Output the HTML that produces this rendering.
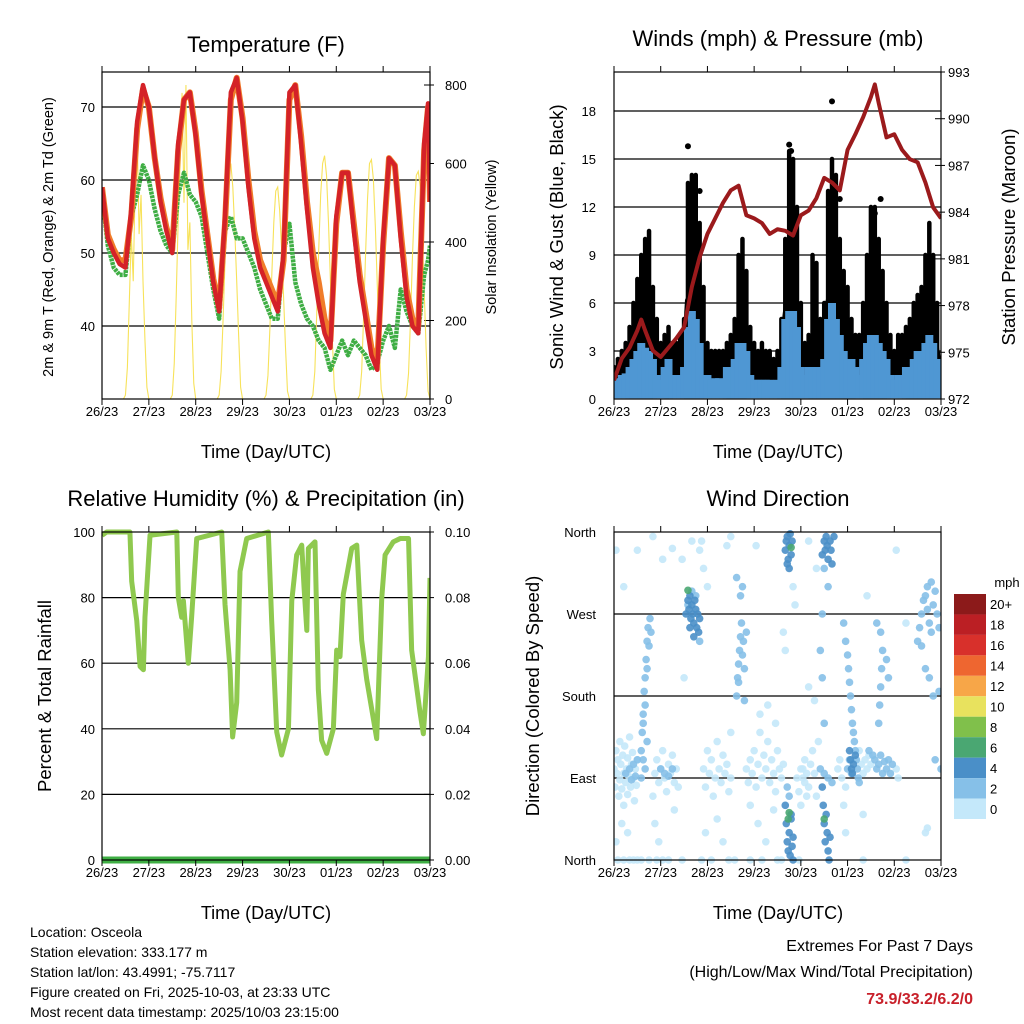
<!DOCTYPE html>
<html><head><meta charset="utf-8"><style>
html,body{margin:0;padding:0;background:#fff;}
svg{display:block;font-family:"Liberation Sans",Arial,sans-serif;}
</style></head><body>
<svg id="c" width="1024" height="1024" viewBox="0 0 1024 1024"></svg>
<script>
// ---------- DATA ----------
const dayLabels = ["26/23","27/23","28/23","29/23","30/23","01/23","02/23","03/23"];
const tempTime = [0,3,6,9,12,15,18,21,24,27,30,33,36,39,42,45,48,51,54,57,60,63,66,69,72,75,78,81,84,87,90,93,96,99,102,105,108,111,114,117,120,123,126,129,132,135,138,141,144,147,150,153,156,159,162,165,167,168];
const temp2m = [59,52,50,48.5,48,56,68,73,70,63,57,53,50,65,71,72,66,58,52,46,42,55,72,74,68,59,52,48,46,44,42,50,72,73,65,56,48,43,39,37,55,61,61,53,46,41,36,34,52,63,62,52,44,40,39,65,70.5,57];
const temp9m = [59,52.5,50.5,49,49,55,67,72.5,70,63,57.5,53.5,50.5,64,71,72,66.5,58.5,52.5,46.5,42.5,54,71,74,68.5,60,53,49,47,45,43,49,71,73,66,57,50,46,41,38,54,61,61,54,47,42,37,35,51,63,62,53,45,41,40,64,70,57];
const dewpt = [58,51,48,47,47,55,58,62,60,56,53,51,50,58,61,58,57,55,50,45,41,53,55,52,52,50,48,45,43,41,41,50,54,46,43,41,40,38,37,34,36,38,36,38,37,36,34,35,38,40,37,45,42,40,39,47,49,51];
const solar = [
0,0,0,0,0,0,0,0,0,0,0,0,10,80,250,420,300,550,680,420,520,300,150,30,
0,0,0,0,0,0,0,0,0,0,0,0,10,90,260,450,600,780,500,800,380,450,200,40,
0,0,0,0,0,0,0,0,0,0,0,0,10,70,200,350,480,580,600,540,430,300,160,30,
0,0,0,0,0,0,0,0,0,0,0,0,10,60,180,320,450,530,540,480,380,260,130,20,
0,0,0,0,0,0,0,0,0,0,0,0,10,70,220,380,520,600,620,570,450,300,150,25,
0,0,0,0,0,0,0,0,0,0,0,0,10,70,210,370,510,600,610,560,440,290,140,25,
0,0,0,0,0,0,0,0,0,0,0,0,10,65,200,360,490,570,580,540,420,280,130,20,
0];
const windTime = [0,2,4,6,8,10,12,14,16,18,20,22,24,26,28,30,32,34,36,38,40,42,44,46,48,50,52,54,56,58,60,62,64,66,68,70,72,74,76,78,80,82,84,86,88,90,92,94,96,98,100,102,104,106,108,110,112,114,116,118,120,122,124,126,128,130,132,134,136,138,140,142,144,146,148,150,152,154,156,158,160,162,164,166,168];
const gustHigh = [2,2.5,3,3.5,4.5,6,7.5,9,10,10.5,7,5,3.5,4,4.5,3.5,3.5,4,5,13.5,14,14,11,7,3.5,3,3,3,3,3.5,4,5,9,10,8,4.5,3.5,3,3.5,3,3,2.5,3,5,10,15.5,15,12,6,3.5,4,9,8.5,5,6,13,15,14,10,8,7,5,4,4,6,9,12,12,10,8,6,4,3,4,4,4.5,5,6,6.5,7,9,11,9,6,2];
const gustLow = [0.5,0.5,0.8,1,1,1.2,1.5,2,2,2,1.5,1,0.8,1,1,1,1,1,1,3,3.5,3,2.5,1,1,0.8,0.8,0.8,0.8,1,1,1,1.5,1.5,1.2,1,0.8,0.8,0.8,0.8,0.8,0.8,0.8,1,3,3.5,3,2.5,1,1,1,1.5,1.5,1.5,1.5,3,3.5,3,2.5,2,1.5,1.5,1,1,1.5,2,2.5,2.5,2,2,1.5,1,0.8,1,1,1,1.5,1.5,1.5,2,2,2,2,1.5,0.5];
const sonicHigh = [1.2,1.3,1.5,1.6,2,2.5,3,3.5,3.2,3,2.5,1.5,1.2,2,2.5,1.5,1.5,1.5,2,4.5,5.5,5,3.5,1.5,1.5,1.2,1.3,1.3,1.2,2,2,2.5,3.5,3.5,3,1.5,1.2,1.2,1.2,1.2,1.2,1,1.2,2,5,5.5,5.5,4.5,2,1.5,2,2,2,2,2.5,5,6,5,4,3,2.5,2.5,2,1.5,2.5,3.5,4,4,3.5,3,2.5,1.5,1.2,1.5,1.5,2,2,2.5,3,3,3.5,4,3.5,2.5,1];
const gustOutTime = [38,44,90,91,112,116,137,134];
const gustOut = [15.8,13,15.9,15.5,18.6,12.5,12.5,11.6];
const presTime = [0,4,8,12,14,16,20,24,28,32,36,40,44,48,52,56,60,64,68,72,76,80,84,88,92,96,100,104,108,112,116,120,124,128,132,134,136,140,144,148,152,156,160,164,168];
const pressure = [973.2,974.6,975.3,976.4,977.1,976.4,975.1,974.7,975.3,975.9,976.6,979.2,981.1,982.6,983.6,984.6,985.4,985.7,983.8,983.6,983.3,982.6,982.9,982.8,982.5,983.8,984.1,984.9,986.2,985.9,985.4,988,989,990.1,991.4,992.2,991,988.8,989,988,987.4,987.2,985.9,984.3,983.6];
const rhTime = [0,2.4,14.3,15.2,17.8,19.5,21.2,22,24.6,38.3,39.1,40.8,41.7,44.2,45.9,48.5,61.3,63,65.6,66.9,69,70.7,74.1,85.2,86.9,89.5,92,95.5,97.2,99.7,102.3,103.5,104.9,105.7,109.1,110.8,112.5,115.1,118.5,120.2,121.9,123.6,127.9,130.5,133,135.6,140.7,143.3,145,149.2,152.7,157,158.6,162.9,164.6,167.2,168];
const rhVals = [99,100,100,85,73,59,58,74,99,100,80,74,79,60,74,98,100,78,58,37.5,48,88,98,100,73,39,32,40,79,93,96,83,70,95,97,52,36.5,32.5,40,64,62,81,95,96,67,55,37,80,93,97,98,98,64,45,38.5,62,86];
const precipVals = [0,0];
const precipTime = [0,168];
const wdTime = [0,0.5,1,1.5,2,2.5,3,3,3.5,4,4.5,5,5,5.5,6,6.5,7,7,7.5,8,8.5,9,9.5,10,10.5,11,11.5,12,1,4,7,2,5,8,10,12,1,5,
6,8,9,10,11,12,
14,14.5,15,15.5,16,16.5,17,17.5,18,16,15,17,18.5,19,17,16,15,14,
20,21,22,23,24,25,26,27,28,29,30,31,32,21,23,25,28,31,33,24,26,28,30,
37,38,38.5,39,39.5,40,40.5,41,41.5,42,42.5,43,43.5,44,38,40,42,39,41,44,38,
35,40,44,46,48,36,
46,47,48,49,50,51,52,53,54,55,56,57,58,59,60,47,50,53,56,59,60,
63,63.5,64,64.5,65,65.5,66,66.5,67,68,65,66,64,67,63,
68,69,70,71,72,73,74,75,76,77,78,79,80,81,82,83,84,85,86,87,70,74,78,82,86,75,79,83,
88,88.5,89,89.5,90,90.5,91,89,91.5,90,91,
88,88.5,89,89.5,90,90.5,91,91.5,92,90,89,92,91,89.5,90,
87,88,92,93,94,95,96,97,98,99,
96,97,98,99,100,101,102,103,104,100,103,105,
107,108,108.5,109,109.5,110,111,111.5,112,113,108,110,107,106,107,108,
107,107.5,108,108.5,109,109.5,110,110.5,111,106,108,110,112,108,
118,119,120,120.5,121,121.5,122,122.5,123,123.5,124,124.5,125,125.5,126,120,121,118,119,122,
121,121.5,122,122.5,123,124,
115,116,117,126,127,128,129,130,131,132,119,128,
134,135,136,137,138,139,140,141,142,143,133,131,140,141,137,145,146,136,136.5,137,137.5,138,135,
156,157,158,159,160,161,162,163,164,165,166,167,158,160,162,164,161,163,167,165,168,
14,18,22,35,45,62,70,76,84,95,128,150,160,161,
12,20,25,30,45,58,60,73,100,104,130,150,145];
const wdDir = [100,80,120,95,110,70,130,88,105,78,115,95,60,125,85,100,112,72,92,135,80,105,118,90,65,100,82,110,20,40,30,0,0,0,0,0,340,300,
95,100,88,105,92,110,
120,140,160,185,200,220,240,255,235,170,150,210,265,250,130,100,110,90,
70,95,110,85,100,120,90,75,105,95,115,85,100,40,20,0,0,55,80,100,95,92,100,
270,285,275,290,265,280,270,260,285,275,255,270,250,265,280,295,290,255,245,240,296,
330,350,340,320,300,200,
100,80,120,95,110,70,90,130,100,85,115,95,105,75,90,30,0,45,20,0,140,
180,200,215,230,245,260,225,240,210,250,290,300,195,175,310,
100,85,110,95,120,80,105,140,90,115,100,130,85,110,95,75,120,100,90,105,60,40,20,55,0,160,170,150,
340,350,355,330,345,358,335,325,350,320,343,
60,40,20,10,30,5,45,15,25,70,80,0,50,45,52,
250,230,300,280,90,75,60,100,85,70,
100,90,110,95,80,105,120,95,70,190,175,130,
335,350,340,355,345,330,350,340,325,355,320,300,270,230,200,150,
80,60,40,20,50,30,10,0,25,100,95,90,85,45,
260,240,225,210,195,180,165,150,140,130,120,110,100,90,85,100,110,60,80,95,
120,110,100,95,105,115,
100,110,90,120,105,95,110,100,115,105,30,50,
110,100,105,115,95,108,100,110,95,105,115,120,220,200,250,100,90,150,170,190,210,230,260,
240,255,270,285,290,275,260,250,280,295,270,255,235,210,200,180,300,305,185,110,100,
0,0,0,0,0,0,0,0,0,0,0,0,30,35,
340,355,330,342,350,345,355,345,350,320,290,260,340];
const wdSpeed = [1,1,1,1,1,1,1,1,1,1,1,1,1,1,1,1,1,1,1,1,1,1,1,1,1,1,1,1,1,1,1,1,1,1,1,1,1,1,
3,3,3,3,3,3,
3,3,3,3,3,3,3,3,3,3,3,3,3,3,3,3,3,3,
1,1,1,1,1,1,1,1,1,1,1,1,1,1,1,1,1,1,1,3,3,3,3,
4.5,4.5,4.5,4.5,4.5,4.5,4.5,4.5,4.5,4.5,4.5,4.5,4.5,4.5,3,3,3,4.5,4.5,3,7,
1,1,1,1,1,1,
1,1,1,1,1,1,1,1,1,1,1,1,1,1,1,1,1,1,1,1,1,
3,3,3,3,3,3,3,3,3,3,3,3,3,3,3,
1,1,1,1,1,1,1,1,1,1,1,1,1,1,1,1,1,1,1,1,1,1,1,1,1,1,1,1,
5,5,5,5,5,5,5,5,5,5,7,
5,5,5,5,5,5,5,5,5,3,3,5,5,7,7,
1,1,1,1,1,1,1,1,1,1,
1,1,1,1,1,1,1,1,1,1,1,1,
5,5,5,5,5,5,5,5,5,5,3,3,3,3,3,3,
5,5,5,5,5,5,5,5,5,3,3,3,3,7,
3,3,3,3,3,3,3,3,3,3,3,3,3,3,3,3,3,1,1,3,
5,5,5,5,5,5,
1,1,1,1,1,1,1,1,1,1,1,1,
2.5,2.5,2.5,2.5,2.5,2.5,2.5,2.5,2.5,2.5,2.5,2.5,2.5,2.5,3,1,1,3,3,3,3,3,3,
3,3,3,3,3,3,3,3,3,3,3,3,3,3,3,3,3,3,3,3,3,
1,1,1,1,1,1,1,1,1,1,1,1,1,1,
1,1,1,1,1,1,1,1,1,1,1,1,1];
const cbLabels = ["20+","18","16","14","12","10","8","6","4","2","0"];
const cbColors = ["#8c1a1a","#bb1f24","#d8302b","#ee6630","#f7a648","#e8e25e","#80c04b","#4aa772","#4a8fc8","#86c0e8","#c4e8fa"];

// ---------- HELPERS ----------
const NS="http://www.w3.org/2000/svg";
const svg=document.getElementById('c');
function mk(tag,attrs,parent){const e=document.createElementNS(NS,tag);for(const k in attrs)e.setAttribute(k,attrs[k]);(parent||svg).appendChild(e);return e;}
function txt(s,x,y,size,anchor,parent,extra){const e=mk('text',Object.assign({x:x,y:y,'font-size':size,'text-anchor':anchor||'middle',fill:'#000'},extra||{}),parent);e.textContent=s;return e;}
function colorFor(s){const idx=Math.min(10,Math.floor(s/2));return cbColors[10-idx];}

const defs=mk('defs',{});
function clip(id,x,y,w,h){const cp=mk('clipPath',{id:id},defs);mk('rect',{x:x,y:y,width:w,height:h},cp);}

function panel(name){
  const g=mk('g',{});
  
  
  return g;
}
function frame(g,x0,y0,w,h){
  const r=mk('rect',{x:x0,y:y0,width:w,height:h,fill:'none',stroke:'#000','stroke-width':1.2},g);
  
  
}
function xAxis(g,x0,x1,yb,yt,labelY){
  for(let i=0;i<dayLabels.length;i++){
    const x=x0+i*(x1-x0)/7;
    mk('line',{x1:x,y1:yb,x2:x,y2:yb+6,stroke:'#000','stroke-width':1},g);
    mk('line',{x1:x,y1:yt,x2:x,y2:yt-6,stroke:'#000','stroke-width':1},g);
    const t=txt(dayLabels[i],x,labelY,13,'middle',g);
    
    
  }
}

// ---------- TEMPERATURE ----------
(function(){
  const X0=102,X1=430,Y0=72,Y1=399;
  const g=panel('temperature-panel');
  const xT=t=>X0+t*(X1-X0)/168;
  const yT=v=>107+(70-v)*7.3;
  const yS=v=>399-v*(399-85)/800;
  clip('cpT',X0,Y0,X1-X0,Y1-Y0);
  [40,50,60,70].forEach(v=>{
    const l=mk('line',{x1:X0,x2:X1,y1:yT(v),y2:yT(v),stroke:'#000','stroke-width':1.2},g);
    
    
    mk('line',{x1:X0,x2:X0+6,y1:yT(v),y2:yT(v),stroke:'#000'},g);
    const t=txt(String(v),95,yT(v)+5,13,'end',g);
    
    
  });
  [0,200,400,600,800].forEach(v=>{
    mk('line',{x1:X1-6,x2:X1+4,y1:yS(v),y2:yS(v),stroke:'#000'},g);
    const t=txt(String(v),445,yS(v)+5,13,'start',g);
    
    
  });
  const pg=mk('g',{'clip-path':'url(#cpT)'},g);
  const sp=mk('polyline',{points:solar.map((v,i)=>xT(i)+','+yS(v)).join(' '),fill:'none',stroke:'#f7e25a','stroke-width':1.1},pg);
  
  
  const dp=mk('polyline',{points:dewpt.map((v,i)=>xT(tempTime[i])+','+yT(v)).join(' '),fill:'none',stroke:'#3fae44','stroke-width':4.5,'stroke-dasharray':'3 0.8','stroke-linejoin':'round'},pg);
  
  
  const op=mk('polyline',{points:temp9m.map((v,i)=>xT(tempTime[i])+','+yT(v)).join(' '),fill:'none',stroke:'#f07c2a','stroke-width':6,'stroke-linejoin':'round'},pg);
  
  
  const rp=mk('polyline',{points:temp2m.map((v,i)=>xT(tempTime[i])+','+yT(v)).join(' '),fill:'none',stroke:'#d42228','stroke-width':4.5,'stroke-linejoin':'round'},pg);
  
  
  frame(g,X0,Y0,X1-X0,Y1-Y0);
  xAxis(g,X0,X1,Y1,Y0,416);
  const ti=txt('Temperature (F)',266,52,22,'middle',g);
  
  
  const xl=txt('Time (Day/UTC)',266,458,18,'middle',g);
  
  
  const yl=txt('2m & 9m T (Red, Orange) & 2m Td (Green)',0,0,14.5,'middle',g,{transform:'translate(53,237) rotate(-90)'});
  
  
  const y2=txt('Solar Insolation (Yellow)',0,0,14.5,'middle',g,{transform:'translate(496,237) rotate(-90)'});
  
  
})();

// ---------- WINDS ----------
(function(){
  const X0=614,X1=941,Y0=72,Y1=399;
  const g=panel('winds-panel');
  const xW=t=>X0+t*(X1-X0)/168;
  const yW=v=>399-16*v;
  const yP=p=>399-(p-972)*(327/21);
  clip('cpW',X0,Y0,X1-X0,Y1-Y0);
  [3,6,9,12,15,18].forEach(v=>{
    const l=mk('line',{x1:X0,x2:X1,y1:yW(v),y2:yW(v),stroke:'#000','stroke-width':1.2},g);
    
    
  });
  [0,3,6,9,12,15,18].forEach(v=>{
    mk('line',{x1:X0,x2:X0+6,y1:yW(v),y2:yW(v),stroke:'#000'},g);
    const t=txt(String(v),596,yW(v)+5,13,'end',g);
    
    
  });
  [972,975,978,981,984,987,990,993].forEach(v=>{
    mk('line',{x1:X1-6,x2:X1+4,y1:yP(v),y2:yP(v),stroke:'#000'},g);
    const t=txt(String(v),948,yP(v)+5,13,'start',g);
    
    
  });
  const pg=mk('g',{'clip-path':'url(#cpW)'},g);
  const gg=mk('g',{},pg);
  
  
  windTime.forEach((t,i)=>{
    const l=mk('line',{x1:xW(t),x2:xW(t),y1:yW(gustLow[i]),y2:yW(gustHigh[i]),stroke:'#000','stroke-width':4.5,'stroke-linecap':'round'},gg);
    
    
  });
  const gl=mk('polyline',{points:windTime.map((t,i)=>xW(t)+','+yW(gustLow[i]+ (gustHigh[i]-gustLow[i])*0.3)).join(' '),fill:'none',stroke:'#000','stroke-width':6,'stroke-linejoin':'round'},gg);
  
  
  gustOut.forEach((v,i)=>{
    const c=mk('circle',{cx:xW(gustOutTime[i]),cy:yW(v),r:3,fill:'#000'},gg);
    
    
  });
  const bg=mk('g',{},pg);
  
  
  windTime.forEach((t,i)=>{
    const l=mk('line',{x1:xW(t),x2:xW(t),y1:yW(0.05),y2:yW(sonicHigh[i]),stroke:'#4f97d3','stroke-width':8},bg);
    
    
  });
  const pp=mk('polyline',{points:pressure.map((p,i)=>xW(presTime[i])+','+yP(p)).join(' '),fill:'none',stroke:'#9b1a1c','stroke-width':4,'stroke-linejoin':'round'},pg);
  
  
  frame(g,X0,Y0,X1-X0,Y1-Y0);
  xAxis(g,X0,X1,Y1,Y0,416);
  const ti=txt('Winds (mph) & Pressure (mb)',778,46,22,'middle',g);
  
  
  const xl=txt('Time (Day/UTC)',778,458,18,'middle',g);
  
  
  const yl=txt('Sonic Wind & Gust (Blue, Black)',0,0,18.5,'middle',g,{transform:'translate(563,237) rotate(-90)'});
  
  
  const y2=txt('Station Pressure (Maroon)',0,0,18.5,'middle',g,{transform:'translate(1015,237) rotate(-90)'});
  
  
})();

// ---------- RH ----------
(function(){
  const X0=102,X1=430,Y0=532,Y1=860;
  const g=panel('humidity-panel');
  const xR=t=>X0+t*(X1-X0)/168;
  const yR=v=>860-v*3.28;
  const yPr=v=>860-v*3280;
  clip('cpR',X0,Y0-4,X1-X0,Y1-Y0+8);
  [20,40,60,80].forEach(v=>{
    const l=mk('line',{x1:X0,x2:X1,y1:yR(v),y2:yR(v),stroke:'#000','stroke-width':1.2},g);
    
    
  });
  [0,20,40,60,80,100].forEach(v=>{
    const t=txt(String(v),95,yR(v)+5,13,'end',g);
    
    
  });
  ["0.00","0.02","0.04","0.06","0.08","0.10"].forEach(s=>{
    const v=parseFloat(s);
    mk('line',{x1:X1-6,x2:X1+4,y1:yPr(v),y2:yPr(v),stroke:'#000'},g);
    const t=txt(s,445,yPr(v)+5,13,'start',g);
    
    
  });
  const pg=mk('g',{'clip-path':'url(#cpR)'},g);
  const rl=mk('polyline',{points:rhVals.map((v,i)=>xR(rhTime[i])+','+yR(v)).join(' '),fill:'none',stroke:'#8fc94f','stroke-width':5,'stroke-linejoin':'round'},pg);
  
  
  const pl=mk('polyline',{points:precipVals.map((v,i)=>xR(precipTime[i])+','+yPr(v)).join(' '),fill:'none',stroke:'#3fae44','stroke-width':7},pg);
  
  
  frame(g,X0,Y0,X1-X0,Y1-Y0);
  xAxis(g,X0,X1,Y1,Y0,877);
  const ti=txt('Relative Humidity (%) & Precipitation (in)',266,506,22,'middle',g);
  
  
  const xl=txt('Time (Day/UTC)',266,919,18,'middle',g);
  
  
  const yl=txt('Percent & Total Rainfall',0,0,18.5,'middle',g,{transform:'translate(51,696) rotate(-90)'});
  
  
})();

// ---------- WIND DIRECTION ----------
(function(){
  const X0=614,X1=941,Y0=532,Y1=860;
  const g=panel('wind-direction-panel');
  const xD=t=>X0+t*(X1-X0)/168;
  const yD=d=>860-d*328/360;
  clip('cpD',X0,Y0-4,X1-X0,Y1-Y0+8);
  [90,180,270].forEach(v=>{
    const l=mk('line',{x1:X0,x2:X1,y1:yD(v),y2:yD(v),stroke:'#000','stroke-width':1.2},g);
    
    
  });
  const dirLabels=["North","East","South","West","North"];
  dirLabels.forEach((s,i)=>{
    const t=txt(s,596,yD(i*90)+5,13,'end',g);
    
    
  });
  const pg=mk('g',{'clip-path':'url(#cpD)'},g);
  const sorted=wdTime.map((t,i)=>i).sort((a,b)=>wdSpeed[a]-wdSpeed[b]);
  sorted.forEach(i=>{
    const c=mk('circle',{cx:xD(wdTime[i]),cy:yD(wdDir[i]),r:3.8,fill:colorFor(wdSpeed[i]),'fill-opacity':0.9},pg);
    
    
  });
  frame(g,X0,Y0,X1-X0,Y1-Y0);
  xAxis(g,X0,X1,Y1,Y0,877);
  const ti=txt('Wind Direction',778,506,22,'middle',g);
  
  
  const xl=txt('Time (Day/UTC)',778,919,18,'middle',g);
  
  
  const yl=txt('Direction (Colored By Speed)',0,0,18.5,'middle',g,{transform:'translate(539,696) rotate(-90)'});
  
  
  const cb=mk('g',{},g);
  
  
  const bh=225/11;
  cbColors.forEach((col,i)=>{
    const r=mk('rect',{x:954,y:594+i*bh,width:32,height:bh,fill:col},cb);
    
    
    const t=txt(cbLabels[i],990,594+i*bh+bh/2+5,13,'start',cb);
    
    
  });
  const u=txt('mph',1007,587,13,'middle',cb);
  
  
})();

// ---------- FOOTER ----------
(function(){
  const g=mk('g',{});
  
  
  ["Location: Osceola","Station elevation: 333.177 m","Station lat/lon: 43.4991; -75.7117","Figure created on Fri, 2025-10-03, at 23:33 UTC","Most recent data timestamp: 2025/10/03 23:15:00"].forEach((s,i)=>{
    const t=txt(s,30,937+i*20,14,'start',g);
    
    
  });
  const e=mk('g',{});
  
  
  const a=txt('Extremes For Past 7 Days',973,951,16,'end',e);
  
  
  const b=txt('(High/Low/Max Wind/Total Precipitation)',973,977,16,'end',e);
  
  
  const c=txt('73.9/33.2/6.2/0',973,1004,16,'end',e,{fill:'#c8202a','font-weight':'bold'});
  
  
})();
</script>
</body></html>
